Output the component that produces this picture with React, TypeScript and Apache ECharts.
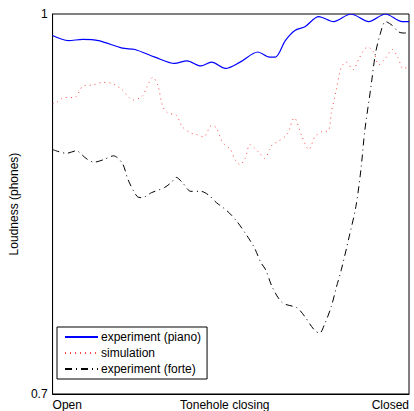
import React, { useEffect, useRef } from "react";
import * as echarts from "echarts";

const xTicks = [0, 50, 100];
const xTickLabels = ["Open", "Tonehole closing", "Closed"];
const yTickLabels = ["0.7", "1"];
const seriesNames = ["experiment (piano)", "simulation", "experiment (forte)"];

const piano: [number, number][] = [
  [0, 0.983], [4.4, 0.979], [8.5, 0.98], [12.9, 0.979], [19.6, 0.973], [23.1, 0.972],
  [28.7, 0.966], [34.2, 0.961], [37.7, 0.963], [41.6, 0.959], [44.6, 0.962], [48.5, 0.957],
  [52.6, 0.962], [57.6, 0.97], [60.9, 0.966], [62.5, 0.966], [65.3, 0.979], [68.0, 0.987],
  [70.8, 0.99], [74.7, 0.998], [78.8, 0.994], [83.7, 1.0], [88.7, 0.994], [93.4, 1.0],
  [98.1, 0.994], [100, 0.994],
];

const simulation: [number, number][] = [
  [0, 0.929], [1.1, 0.93], [3.3, 0.934], [6.1, 0.934], [8.5, 0.943], [11.3, 0.944],
  [14.0, 0.946], [16.8, 0.945], [19.6, 0.94], [22.6, 0.932], [25.1, 0.935], [26.4, 0.942],
  [28.1, 0.95], [29.5, 0.944], [30.9, 0.927], [32.2, 0.922], [34.7, 0.92], [36.4, 0.911],
  [38.8, 0.906], [40.2, 0.905], [42.4, 0.903], [44.6, 0.912], [46.0, 0.91], [47.1, 0.902],
  [47.9, 0.898], [49.9, 0.893], [51.2, 0.885], [52.6, 0.881], [54.0, 0.886], [55.4, 0.897],
  [56.7, 0.894], [58.1, 0.89], [59.5, 0.886], [60.9, 0.893], [61.7, 0.897], [63.1, 0.899],
  [65.8, 0.905], [67.8, 0.918], [70.0, 0.903], [71.9, 0.893], [73.6, 0.903], [75.5, 0.907],
  [77.4, 0.908], [78.2, 0.922], [79.6, 0.94], [81.0, 0.958], [82.4, 0.962], [84.3, 0.956],
  [86.0, 0.965], [88.4, 0.974], [90.1, 0.97], [91.5, 0.96], [93.4, 0.965], [95.3, 0.972],
  [97.0, 0.965], [98.3, 0.957], [100, 0.958],
];

const forte: [number, number][] = [
  [0, 0.893], [3.9, 0.89], [6.6, 0.892], [9.4, 0.886], [11.6, 0.883], [14.3, 0.885],
  [17.1, 0.888], [19.6, 0.882], [21.2, 0.869], [23.7, 0.856], [25.1, 0.855], [27.8, 0.859],
  [31.4, 0.863], [33.3, 0.867], [34.7, 0.871], [36.4, 0.867], [38.8, 0.86], [41.6, 0.86],
  [43.8, 0.857], [46.0, 0.851], [48.8, 0.845], [51.5, 0.837], [54.3, 0.826], [56.7, 0.815],
  [58.4, 0.804], [59.8, 0.798], [61.7, 0.784], [64.5, 0.772], [68.6, 0.768], [70.8, 0.761],
  [73.3, 0.751], [74.9, 0.748], [76.3, 0.755], [78.2, 0.769], [79.6, 0.784], [81.0, 0.798],
  [83.2, 0.824], [85.1, 0.848], [86.5, 0.877], [87.6, 0.908], [89.3, 0.942], [90.6, 0.969],
  [92.0, 0.985], [93.4, 0.994], [95.3, 0.991], [97.0, 0.986], [98.3, 0.985], [100, 0.985],
];

const FONT = "'Liberation Sans', Arial, Helvetica, sans-serif";

export default function App() {
  const ref = useRef<HTMLDivElement>(null);
  useEffect(() => {
    if (!ref.current) return;
    const chart = echarts.init(ref.current, null, { renderer: "svg" });
    chart.setOption({
      animation: false,
      textStyle: { fontFamily: FONT },
      grid: {
        left: 46,
        top: 14,
        right: 5,
        bottom: 17,
        show: true,
        borderColor: "#000",
        borderWidth: 1,
        containLabel: false,
      },
      legend: {
        orient: "vertical",
        left: 57,
        top: 327,
        width: 148,
        padding: [4, 6, 4, 7],
        borderColor: "#000",
        borderWidth: 1,
        backgroundColor: "#fff",
        itemWidth: 33,
        itemHeight: 12,
        itemGap: 4,
        itemStyle: { opacity: 0 },
        textStyle: { fontSize: 12, color: "#000", fontFamily: FONT, padding: [0, 0, 0, -2] },
        data: seriesNames,
      },
      xAxis: {
        type: "value",
        min: 0,
        max: 100,
        interval: 50,
        axisLine: { show: true, lineStyle: { color: "#000", width: 1 } },
        axisTick: { show: false },
        splitLine: { show: false },
        axisLabel: { show: false },
      },
      yAxis: {
        type: "value",
        min: 0.7,
        max: 1,
        name: "Loudness (phones)",
        nameLocation: "middle",
        nameGap: 21,
        nameTextStyle: { color: "#000", fontSize: 12, fontFamily: FONT },
        axisLine: { show: true, lineStyle: { color: "#000", width: 1 } },
        axisTick: { show: false },
        splitLine: { show: false },
        axisLabel: {
          color: "#000",
          fontSize: 12,
          fontFamily: FONT,
          margin: 5,
          showMinLabel: true,
          showMaxLabel: true,
          formatter: (v: number) =>
            Math.abs(v - 0.7) < 1e-6 ? yTickLabels[0] : Math.abs(v - 1) < 1e-6 ? yTickLabels[1] : "",
        },
      },
      series: [
        {
          name: seriesNames[0],
          type: "line",
          data: piano,
          symbol: "none",
          smooth: 0.3,
          lineStyle: { color: "#0000ff", width: 1.2, type: "solid" },
          itemStyle: { color: "#0000ff" },
        },
        {
          name: seriesNames[1],
          type: "line",
          data: simulation,
          symbol: "none",
          smooth: 0.3,
          lineStyle: { color: "#ff4444", width: 1, type: [1, 4] },
          itemStyle: { color: "#ff4444" },
        },
        {
          name: seriesNames[2],
          type: "line",
          data: forte,
          symbol: "none",
          smooth: 0.3,
          lineStyle: { color: "#000", width: 1, type: [7, 4, 1, 4] },
          itemStyle: { color: "#000" },
        },
      ],
    });

    const aligns = ["left", "center", "right"];
    const offsets = [0, -6, 0];
    const labels = xTicks.map((t, i) => {
      const p = chart.convertToPixel({ gridIndex: 0 }, [t, 0.7]) as number[];
      return {
        type: "text",
        x: p[0] + offsets[i],
        y: p[1] + 5,
        style: {
          text: xTickLabels[i],
          fill: "#000",
          fontSize: 12,
          fontFamily: FONT,
          align: aligns[i],
          verticalAlign: "top",
        },
      };
    });
    chart.setOption({ graphic: labels });
    return () => chart.dispose();
  }, []);
  return (
    <div
      ref={ref}
      style={{ position: "fixed", left: 0, top: 0, width: 414, height: 411, background: "#fff" }}
    />
  );
}
